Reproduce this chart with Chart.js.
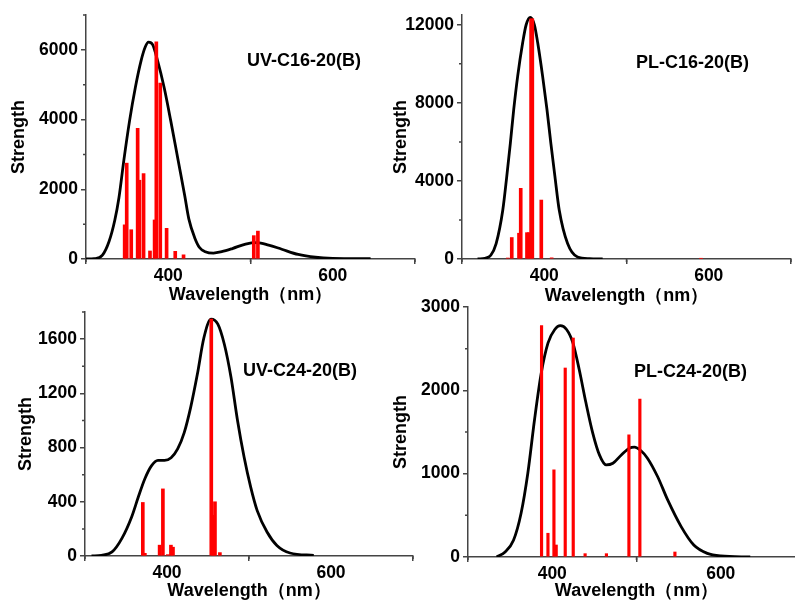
<!DOCTYPE html>
<html>
<head>
<meta charset="utf-8">
<script src="https://cdn.jsdelivr.net/npm/chart.js@4.4.1/dist/chart.umd.min.js"></script>
<style>
  body { margin: 0; width: 795px; height: 600px; overflow: hidden; background: #fff; position: relative;
         font-family: 'Liberation Sans', Arial, sans-serif; }
  canvas { position: absolute; }
  .tag { position: absolute; font-weight: bold; font-size: 18px; line-height: 18px; white-space: nowrap; color: #000; }
</style>
</head>
<body>
<canvas id="uv16" width="420" height="310" style="left:0;top:0"></canvas>
<canvas id="pl16" width="410" height="310" style="left:385px;top:0"></canvas>
<canvas id="uv24" width="420" height="305" style="left:0;top:295px"></canvas>
<canvas id="pl24" width="425" height="310" style="left:385px;top:290px"></canvas>
<div class="tag" style="left:247px;top:51px">UV-C16-20(B)</div>
<div class="tag" style="left:636px;top:53px">PL-C16-20(B)</div>
<div class="tag" style="left:243px;top:361px">UV-C24-20(B)</div>
<div class="tag" style="left:634px;top:362px">PL-C24-20(B)</div>
<script>
// shared wavelength axis
const wlTicks = [400, 600];
const wlMinor = [300, 500, 700];

// UV-C16-20(B)
const uv16CurveWl  = [300, 310, 320, 328, 335, 340, 346, 353, 360, 367, 372, 376, 381, 387, 395, 403, 412, 420, 425, 432, 438, 445, 455, 465, 478, 494, 508, 522, 538, 558, 579, 600, 646];
const uv16CurveVal = [0, 10, 110, 500, 1110, 1750, 2830, 3970, 4920, 5690, 6080, 6220, 6150, 5690, 4920, 3970, 2830, 1820, 1150, 620, 330, 210, 170, 210, 300, 430, 470, 400, 280, 130, 50, 20, 10];
const uv16BarWl  = [347, 349.5, 355, 362.8, 365, 370, 377.8, 383.4, 385.5, 390.3, 398, 408.5, 418.6, 504, 509];
const uv16BarVal = [980, 2750, 840, 3750, 2260, 2450, 230, 1120, 6230, 5050, 880, 220, 120, 670, 800];
const uv16Ticks = [0, 2000, 4000, 6000];
const uv16Minor = [1000, 3000, 5000, 7000];

// PL-C16-20(B)
const pl16CurveWl  = [319, 328, 335, 341.5, 349.6, 354.4, 358.8, 362.9, 367.7, 373.8, 378, 383, 388, 392, 398, 403.3, 408, 413, 418.2, 428.4, 440.5, 455, 471];
const pl16CurveVal = [0, 40, 190, 790, 2510, 4220, 5940, 7660, 9370, 11090, 12000, 12380, 12000, 11090, 9370, 7660, 5940, 4220, 2510, 790, 100, 20, 0];
const pl16BarWl  = [355.6, 360.5, 369.3, 371.4, 379, 381.4, 384, 385.5, 396.4, 409, 590.6];
const pl16BarVal = [50, 1100, 1320, 3620, 1350, 1350, 12300, 12300, 3020, 60, 30];
const pl16Ticks = [0, 4000, 8000, 12000];
const pl16Minor = [2000, 6000, 10000];

// UV-C24-20(B)
const uv24CurveWl  = [308, 320, 333, 345, 357, 365, 373, 381, 389, 397, 405, 413, 421, 429, 437, 445, 453.6, 462, 470, 478, 486, 494, 502, 510, 522, 534, 550, 579];
const uv24CurveVal = [0, 5, 30, 130, 290, 435, 570, 665, 705, 705, 725, 790, 910, 1100, 1340, 1610, 1747, 1710, 1560, 1320, 1000, 730, 510, 335, 177, 78, 22, 5];
const uv24BarWl  = [370.5, 373, 391, 395, 401, 404.8, 407.3, 454, 456.4, 458.5, 464.5];
const uv24BarVal = [395, 20, 80, 495, 10, 80, 65, 1747, 300, 400, 25];
const uv24Ticks = [0, 400, 800, 1200, 1600];
const uv24Minor = [200, 600, 1000, 1400, 1800];

// PL-C24-20(B)
const pl24CurveWl  = [334, 344, 354, 363, 371, 379, 387, 395, 403, 409.5, 417, 424.5, 432, 440, 448, 456, 464, 472, 482, 491.5, 497.5, 505, 513, 525, 537, 553, 568, 584, 600, 635];
const pl24CurveVal = [0, 60, 200, 525, 1005, 1650, 2210, 2570, 2730, 2776, 2730, 2570, 2250, 1850, 1490, 1225, 1105, 1125, 1225, 1305, 1318, 1278, 1186, 966, 685, 365, 144, 44, 12, 0];
const pl24BarWl  = [387.3, 394.9, 402, 404.7, 415.4, 424.9, 439, 464.3, 491, 504, 545.6];
const pl24BarVal = [2776, 285, 1046, 144, 2268, 2628, 40, 40, 1466, 1895, 60];
const pl24Ticks = [0, 1000, 2000, 3000];
const pl24Minor = [500, 1500, 2500];

const axisColor = '#444';
const fontFam = "'Liberation Sans', Arial, sans-serif";

// short unlabeled ticks between the labeled ones
const minorTicks = {
  id: 'minorTicks',
  afterDraw(chart, args, opts) {
    const {ctx, chartArea, scales} = chart;
    ctx.save();
    ctx.strokeStyle = axisColor;
    ctx.lineWidth = 1.5;
    ctx.beginPath();
    opts.y.forEach(v => {
      const py = scales.y.getPixelForValue(v);
      ctx.moveTo(chartArea.left - 3, py);
      ctx.lineTo(chartArea.left, py);
    });
    opts.x.forEach(v => {
      const px = scales.x.getPixelForValue(v);
      ctx.moveTo(px, chartArea.bottom);
      ctx.lineTo(px, chartArea.bottom + 3);
    });
    ctx.stroke();
    ctx.restore();
  }
};

const toPoints = (xs, ys) => xs.map((x, i) => ({x: x, y: ys[i]}));
const tickFont = { family: fontFam, size: 17.5, weight: 'bold' };
const titleFont = { family: fontFam, size: 18, weight: 'bold', lineHeight: 1 };

const makePanel = (id, p) => {
  new Chart(document.getElementById(id), {
    type: 'bar',
    data: {
      datasets: [
        {
          type: 'bar',
          data: toPoints(p.barWl, p.barVal),
          backgroundColor: '#ff0000',
          barThickness: p.barWidth,
          order: 0
        },
        {
          type: 'line',
          data: toPoints(p.curveWl, p.curveVal),
          borderColor: '#000',
          borderWidth: 2.8,
          pointRadius: 0,
          fill: false,
          cubicInterpolationMode: 'monotone',
          order: 1
        }
      ]
    },
    options: {
      responsive: false,
      animation: false,
      layout: { padding: p.pad },
      plugins: {
        legend: { display: false },
        tooltip: { enabled: false },
        minorTicks: { x: wlMinor, y: p.minor }
      },
      scales: {
        x: {
          type: 'linear',
          min: 300,
          max: 700,
          offset: false,
          afterBuildTicks: s => { s.ticks = wlTicks.map(v => ({value: v})); },
          afterFit: s => { s.height = p.xH; },
          grid: { drawOnChartArea: false, tickLength: 5, color: axisColor, lineWidth: 1.5 },
          border: { color: axisColor, width: 1.5 },
          ticks: { color: '#000', padding: 2, font: tickFont, callback: v => String(v) },
          title: {
            display: true,
            text: 'Wavelength（nm）',
            color: '#000',
            padding: { top: 0, bottom: 0 },
            font: titleFont
          }
        },
        y: {
          min: 0,
          max: p.yMax,
          afterBuildTicks: s => { s.ticks = p.ticks.map(v => ({value: v})); },
          afterFit: s => { s.width = p.yW; },
          grid: { drawOnChartArea: false, tickLength: 5, color: axisColor, lineWidth: 1.5 },
          border: { color: axisColor, width: 1.5 },
          ticks: { color: '#000', padding: 3, font: tickFont, callback: v => String(v) },
          title: {
            display: true,
            text: 'Strength',
            color: '#000',
            padding: { top: p.yTitlePad, bottom: 0 },
            font: titleFont
          }
        }
      }
    },
    plugins: [minorTicks]
  });
};

makePanel('uv16', {
  curveWl: uv16CurveWl, curveVal: uv16CurveVal, barWl: uv16BarWl, barVal: uv16BarVal,
  ticks: uv16Ticks, minor: uv16Minor, yMax: 7000, barWidth: 3,
  pad: { left: 0, top: 15, right: 5, bottom: 6 }, yW: 86, xH: 45, yTitlePad: 10
});
makePanel('pl16', {
  curveWl: pl16CurveWl, curveVal: pl16CurveVal, barWl: pl16BarWl, barVal: pl16BarVal,
  ticks: pl16Ticks, minor: pl16Minor, yMax: 12500, barWidth: 3,
  pad: { left: 0, top: 15, right: 4, bottom: 5 }, yW: 77, xH: 46, yTitlePad: 7
});
makePanel('uv24', {
  curveWl: uv24CurveWl, curveVal: uv24CurveVal, barWl: uv24BarWl, barVal: uv24BarVal,
  ticks: uv24Ticks, minor: uv24Minor, yMax: 1800, barWidth: 3,
  pad: { left: 0, top: 17, right: 7, bottom: 0 }, yW: 85, xH: 44, yTitlePad: 17
});
makePanel('pl24', {
  curveWl: pl24CurveWl, curveVal: pl24CurveVal, barWl: pl24BarWl, barVal: pl24BarVal,
  ticks: pl24Ticks, minor: pl24Minor, yMax: 3000, barWidth: 2.5,
  pad: { left: 0, top: 17, right: 5, bottom: 0 }, yW: 83, xH: 43, yTitlePad: 7
});
</script>
</body>
</html>
